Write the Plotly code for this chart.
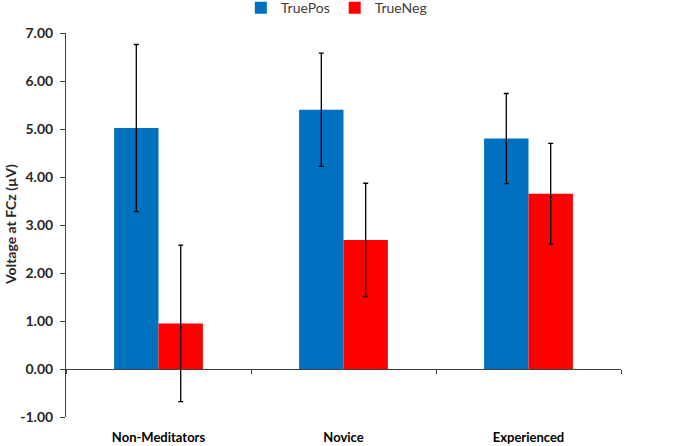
import plotly.graph_objects as go

categories = ["Non-Meditators", "Novice", "Experienced"]
true_pos = [5.02, 5.40, 4.80]
true_pos_err = [1.74, 1.18, 0.94]
true_neg = [0.95, 2.69, 3.65]
true_neg_err = [1.63, 1.18, 1.05]
y_tick_vals = [-1, 0, 1, 2, 3, 4, 5, 6, 7]
y_tick_text = ["-1.00", "0.00", "1.00", "2.00", "3.00", "4.00", "5.00", "6.00", "7.00"]
y_title = "Voltage at FCz (µV)"

FONT = "Lato"
err_style = dict(type="data", visible=True, color="#000000", thickness=1.3, width=2.5)

fig = go.Figure()
fig.add_trace(go.Bar(
    name="TruePos", x=categories, y=true_pos,
    marker=dict(color="#0070C0", line=dict(width=0)),
    error_y=dict(array=true_pos_err, **err_style),
))
fig.add_trace(go.Bar(
    name="TrueNeg", x=categories, y=true_neg,
    marker=dict(color="#FF0000", line=dict(width=0)),
    error_y=dict(array=true_neg_err, **err_style),
))
# invisible trace carrying the category labels on the bottom axis
fig.add_trace(go.Scatter(
    x=categories, y=[0, 0, 0], xaxis="x2", mode="markers",
    marker=dict(opacity=0), showlegend=False, hoverinfo="skip",
))

fig.update_layout(
    width=685, height=446,
    margin=dict(l=66, r=64, t=33, b=29, autoexpand=False),
    paper_bgcolor="white", plot_bgcolor="white",
    barmode="group", bargap=0.52, bargroupgap=0,
    font=dict(family=FONT, color="#262626"),
    showlegend=True,
    legend=dict(
        orientation="h", x=0.491, xanchor="center", y=1.065, yanchor="middle",
        xref="container", yref="paper",
        font=dict(size=14, color="#404040", family=FONT),
        itemwidth=30, traceorder="normal", tracegroupgap=0,
    ),
    xaxis=dict(
        type="category", range=[-0.5, 2.5],
        anchor="free", position=0.125,
        showline=True, linecolor="#404040", linewidth=1,
        ticks="outside", tickson="boundaries", ticklen=4, tickcolor="#404040",
        showticklabels=False, showgrid=False, zeroline=False, automargin=False,
    ),
    xaxis2=dict(
        type="category", overlaying="x", matches="x", anchor="y", side="bottom",
        showline=False, ticks="", showgrid=False, zeroline=False, automargin=False,
        ticklabelstandoff=11,
        tickfont=dict(size=13, family=FONT, color="#000000", weight="bold"),
    ),
    yaxis=dict(
        range=[-1, 7], tickvals=y_tick_vals, ticktext=y_tick_text,
        showline=True, linecolor="#404040", linewidth=1,
        ticks="outside", ticklen=5, tickcolor="#404040",
        showgrid=False, zeroline=False, automargin=False,
        ticklabelstandoff=4,
        tickfont=dict(size=14, family=FONT, color="#262626", weight="bold"),
    ),
    annotations=[dict(
        text=y_title, textangle=-90, showarrow=False,
        xref="paper", yref="paper", x=-56 / 555, y=0.5,
        xanchor="center", yanchor="middle",
        font=dict(size=14, family=FONT, color="#262626", weight="bold"),
    )],
)

post = "document.body.style.margin='0px';"
fig.write_html("out.html", config={"displayModeBar": False}, post_script=post)
